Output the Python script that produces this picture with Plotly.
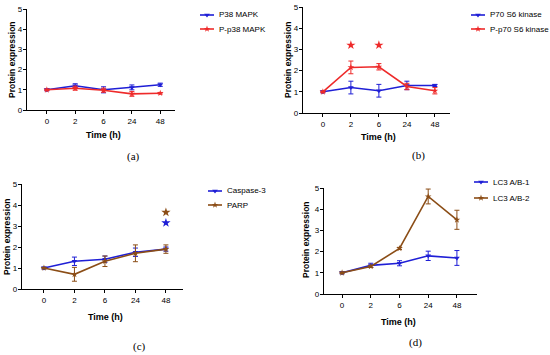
import plotly.graph_objects as go

time_labels = ["0", "2", "6", "24", "48"]
xpos = [0, 1, 2, 3, 4]

# Panel (a)
p38 = [1.0, 1.2, 1.0, 1.12, 1.25]
p38_err = [0.05, 0.1, 0.15, 0.12, 0.08]
pp38 = [1.0, 1.08, 0.98, 0.8, 0.83]
pp38_err = [0.03, 0.1, 0.1, 0.12, 0.04]

# Panel (b)
p70 = [1.0, 1.2, 1.05, 1.3, 1.3]
p70_err = [0.05, 0.3, 0.3, 0.2, 0.05]
pp70 = [1.0, 2.15, 2.18, 1.25, 1.05]
pp70_err = [0.03, 0.3, 0.15, 0.15, 0.15]
b_star_x = [1, 2]
b_star_y = [3.2, 3.2]

# Panel (c)
casp3 = [1.0, 1.32, 1.42, 1.75, 1.9]
casp3_err = [0.05, 0.2, 0.15, 0.2, 0.1]
parp = [1.0, 0.7, 1.32, 1.7, 1.9]
parp_err = [0.03, 0.33, 0.25, 0.4, 0.2]
c_star_brown = ([4], [3.65])
c_star_blue = ([4], [3.15])

# Panel (d)
lc31 = [1.0, 1.35, 1.45, 1.8, 1.7]
lc31_err = [0.05, 0.1, 0.12, 0.22, 0.35]
lc32 = [1.0, 1.3, 2.15, 4.6, 3.5]
lc32_err = [0.03, 0.05, 0.05, 0.35, 0.45]
d_star_x = [2, 3, 4]
d_star_y = [5.3, 5.3, 5.3]

BLUE = "#1f1fd6"
RED = "#ee2a2a"
BROWN = "#8b4d16"
FONT = "Liberation Sans"

W, H = 550, 355

def px(x):
    return x / W

def py(y):
    return 1 - y / H

fig = go.Figure()

panels = [
    # name, axis id, x0, x1, y0pix (value 0), y5pix (value 5), xrange
    ("a", "", 27, 175, 110, 9, [-0.7, 4.52]),
    ("b", "2", 303, 450, 113, 7, [-0.71, 4.54]),
    ("c", "3", 22, 183, 289, 184, [-0.72, 4.56]),
    ("d", "4", 324, 477, 294, 188, [-0.63, 4.70]),
]

series = {
    "a": [("P38 MAPK", p38, p38_err, BLUE, "triangle-down"), ("P-p38 MAPK", pp38, pp38_err, RED, "star")],
    "b": [("P70 S6 kinase", p70, p70_err, BLUE, "triangle-down"), ("P-p70 S6 kinase", pp70, pp70_err, RED, "star")],
    "c": [("Caspase-3", casp3, casp3_err, BLUE, "triangle-down"), ("PARP", parp, parp_err, BROWN, "star")],
    "d": [("LC3 A/B-1", lc31, lc31_err, BLUE, "triangle-down"), ("LC3 A/B-2", lc32, lc32_err, BROWN, "star")],
}

# legend: line start x, first row y, row gap (pixels)
legend_pos = {
    "a": (200, 15, 14),
    "b": (471, 15, 14),
    "c": (208, 191, 14),
    "d": (474, 182, 16),
}

time_title = {"a": (103, 135), "b": (378, 137), "c": (105, 317), "d": (398, 322)}
ylab = {"a": (12, 60), "b": (288, 60), "c": (7, 237), "d": (306, 240)}
plabel = {"a": (133, 156), "b": (418, 155), "c": (140, 346), "d": (415, 342)}

layout = {}
annotations = []
shapes = []
for idx, (name, ax, x0, x1, y0, y5, xr) in enumerate(panels):
    for (lab, vals, err, col, sym) in series[name]:
        fig.add_trace(go.Scatter(
            x=xpos, y=vals, name=lab, mode="lines+markers",
            line=dict(color=col, width=1.6),
            marker=dict(color=col, size=5, symbol=sym),
            error_y=dict(type="data", array=err, color=col, thickness=1, width=2.5),
            xaxis="x" + ax, yaxis="y" + ax, showlegend=False, cliponaxis=False,
        ))
    layout["xaxis" + ax] = dict(
        domain=[px(x0), px(x1)], range=xr, anchor="y" + ax,
        tickvals=xpos, ticktext=time_labels, showline=True, linecolor="black",
        linewidth=1.2, ticks="outside", ticklen=3, tickcolor="black",
        showgrid=False, zeroline=False, automargin=False, fixedrange=True,
        tickfont=dict(family=FONT, size=8, color="black"),
    )
    layout["yaxis" + ax] = dict(
        domain=[py(y0), py(y5)], range=[0, 5], anchor="x" + ax,
        tickvals=[0, 1, 2, 3, 4, 5], showline=True, linecolor="black",
        linewidth=1.2, ticks="outside", ticklen=3, tickcolor="black",
        showgrid=False, zeroline=False, automargin=False, fixedrange=True,
        ticklabelstandoff=-1,
        tickfont=dict(family=FONT, size=8, color="black"),
    )
    # manual legend
    lx, ly, gap = legend_pos[name]
    for k, (lab, vals, err, col, sym) in enumerate(series[name]):
        yy = ly + k * gap
        shapes.append(dict(type="line", xref="paper", yref="paper",
                           x0=px(lx), x1=px(lx + 14), y0=py(yy), y1=py(yy),
                           line=dict(color=col, width=1.6)))
        fig.add_trace(go.Scatter(x=[lx + 7], y=[yy], mode="markers",
                                 marker=dict(color=col, size=5, symbol=sym),
                                 xaxis="x5", yaxis="y5", showlegend=False, hoverinfo="skip"))
        annotations.append(dict(text=lab, x=px(lx + 17), y=py(yy), xref="paper", yref="paper",
                                xanchor="left", yanchor="middle", showarrow=False,
                                font=dict(family=FONT, size=8, color="black")))
    tx, ty = time_title[name]
    annotations.append(dict(text="<b>Time (h)</b>", x=px(tx), y=py(ty), xref="paper", yref="paper",
                            xanchor="center", yanchor="middle",
                            showarrow=False, font=dict(family=FONT, size=9, color="black")))
    yx, yy = ylab[name]
    annotations.append(dict(text="<b>Protein expression</b>", x=px(yx), y=py(yy), xref="paper", yref="paper",
                            xanchor="center", yanchor="middle",
                            showarrow=False, textangle=-90, font=dict(family=FONT, size=8.5, color="black")))
    lx2, ly2 = plabel[name]
    annotations.append(dict(text=f"({name})", x=px(lx2), y=py(ly2), xref="paper", yref="paper",
                            xanchor="center", yanchor="middle",
                            showarrow=False, font=dict(family="Liberation Serif", size=11, color="black")))

# overlay pixel axis for legend keys
layout["xaxis5"] = dict(domain=[0, 1], range=[0, W], visible=False, anchor="y5", fixedrange=True)
layout["yaxis5"] = dict(domain=[0, 1], range=[H, 0], visible=False, anchor="x5", fixedrange=True)

# significance stars
fig.add_trace(go.Scatter(x=b_star_x, y=b_star_y, mode="markers", marker=dict(symbol="star", size=7, color=RED),
                         xaxis="x2", yaxis="y2", showlegend=False, cliponaxis=False))
fig.add_trace(go.Scatter(x=c_star_brown[0], y=c_star_brown[1], mode="markers", marker=dict(symbol="star", size=7, color=BROWN),
                         xaxis="x3", yaxis="y3", showlegend=False, cliponaxis=False))
fig.add_trace(go.Scatter(x=c_star_blue[0], y=c_star_blue[1], mode="markers", marker=dict(symbol="star", size=7, color=BLUE),
                         xaxis="x3", yaxis="y3", showlegend=False, cliponaxis=False))
fig.add_trace(go.Scatter(x=d_star_x, y=d_star_y, mode="markers", marker=dict(symbol="star", size=7, color=RED),
                         xaxis="x4", yaxis="y4", showlegend=False, cliponaxis=False))

fig.update_layout(
    width=W, height=H, margin=dict(l=0, r=0, t=0, b=0, autoexpand=False),
    plot_bgcolor="rgba(0,0,0,0)", paper_bgcolor="white", showlegend=False,
    annotations=annotations, shapes=shapes, **layout,
)

fig.write_html("out.html", config={"displayModeBar": False, "staticPlot": True},
               post_script="document.body.style.margin='0';document.body.style.overflow='hidden';")
